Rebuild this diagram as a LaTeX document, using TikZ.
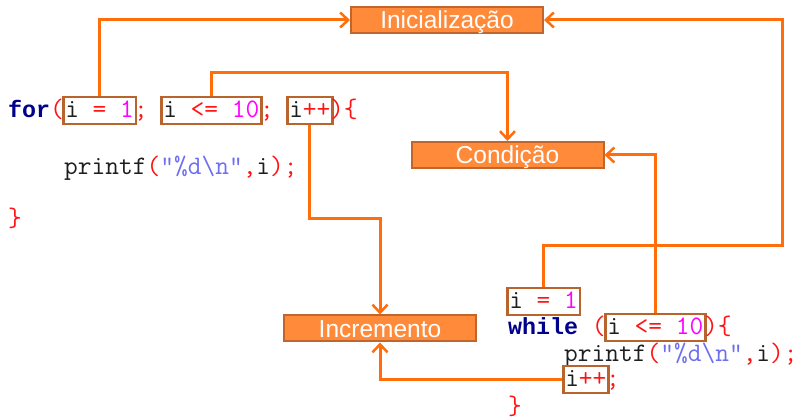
\documentclass[tikz,border=0pt]{standalone}
\usepackage{fontspec}
\setmainfont{Liberation Sans}
\newfontfamily\codefont{Latin Modern Mono}
\newfontfamily\kwfont{Liberation Mono}
\usetikzlibrary{arrows.meta}
\definecolor{kwc}{RGB}{0,0,140}
\definecolor{redc}{RGB}{255,20,20}
\definecolor{magc}{RGB}{255,0,255}
\definecolor{strc}{RGB}{110,110,240}
\definecolor{blkc}{RGB}{30,30,30}
\definecolor{cboxc}{RGB}{185,100,45}
\definecolor{lblfill}{RGB}{255,138,58}
\definecolor{lblborder}{RGB}{192,102,45}
\definecolor{arrc}{RGB}{255,110,10}
\newcommand\myR[1]{\textcolor{redc}{#1}}
\newcommand\myM[1]{\textcolor{magc}{#1}}
\newcommand\myS[1]{\textcolor{strc}{#1}}
\newcommand\myK[1]{\textcolor{kwc}{\kwfont\fontsize{23.33}{28}\selectfont\bfseries #1}}
\begin{document}
\begin{tikzpicture}[x=1pt,y=-1pt,
  codetxt/.style={inner sep=0pt, anchor=base west, font={\codefont\fontsize{26.67}{30}\selectfont}, text=blkc},
  cbox/.style={codetxt, draw=cboxc, line width=2.5pt, inner xsep=2pt, inner ysep=2.75pt, text height=18pt, text depth=3.5pt},
  lblbox/.style={draw=lblborder, fill=lblfill, line width=2pt, minimum width=192pt, minimum height=26pt, inner sep=0pt, text height=20pt, text depth=2pt, text=white, font={\fontsize{24.5}{27}\selectfont}},
  conn/.style={draw=arrc, line width=3pt, -{Straight Barb[length=8pt,width=15pt,line width=2.5pt]}}
]
\fill[white] (0,0) rectangle (801,419);
\useasboundingbox (0,0) rectangle (801,419);

% label boxes
\node[lblbox] (init) at (447,20) {Inicialização};
\node[lblbox] (cond) at (507.5,155) {Condição};
\node[lblbox] (incr) at (380,328.5) {Incremento};

% for loop
\node[codetxt] (f0) at (8,118) {\myK{for}\myR{(}};
\node[cbox] (b1) at (62,118) {i \myR{=} \myM{1}};
\node[codetxt] (f1) at (134,118) {\myR{;}};
\node[cbox] (b2) at (160,118) {i \myR{<=} \myM{10}};
\node[codetxt] (f2) at (260,118) {\myR{;}};
\node[cbox] (b3) at (286,118) {i\myR{++}};
\node[codetxt] (f3) at (330,118) {\myR{)\{}};
\node[codetxt] (f4) at (64,175) {printf\myR{(}\myS{"\%d\textbackslash n"}\myR{,}i\myR{);}};
\node[codetxt] (f5) at (8,227) {\myR{\}}};

% while loop
\node[cbox] (wb1) at (506,309) {i \myR{=} \myM{1}};
\node[codetxt] (w0) at (508,335) {\myK{while} \myR{(}};
\node[cbox] (wb2) at (604,335) {i \myR{<=} \myM{10}};
\node[codetxt] (w1) at (704,335) {\myR{)\{}};
\node[codetxt] (w2) at (564,362) {printf\myR{(}\myS{"\%d\textbackslash n"}\myR{,}i\myR{);}};
\node[cbox] (wb3) at (562,387) {i\myR{++}};
\node[codetxt] (w3) at (606,387) {\myR{;}};
\node[codetxt] (w4) at (508,415) {\myR{\}}};

\coordinate (rt) at (782,246);

% connectors
\draw[conn] (b1.north) |- (init.west);
\draw[conn] (b2.north) -- (b2.north |- 0,73) -| (cond.north);
\draw[conn] (b3.south) -- (b3.south |- 0,219) -| (incr.north);
\draw[conn] (wb1.north) |- (rt) |- (init.east);
\draw[conn] (wb2.north) |- (cond.east);
\draw[conn] (wb3.west) -| (incr.south);
\end{tikzpicture}
\end{document}
